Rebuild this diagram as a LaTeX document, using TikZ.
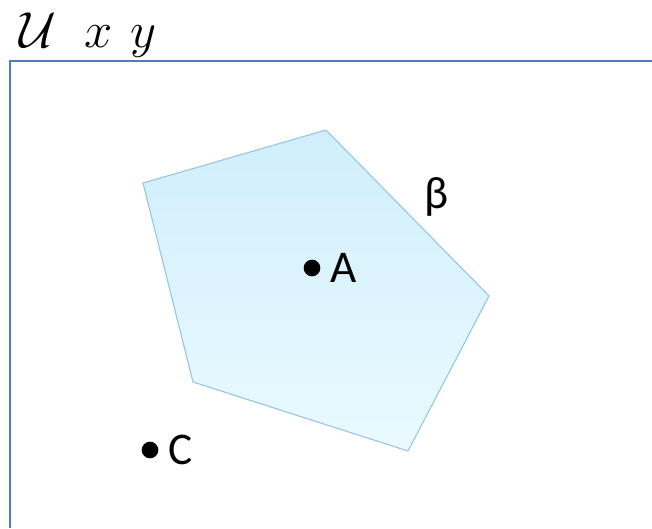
\RequirePackage{fix-cm}
\documentclass[tikz,border=0pt]{standalone}
\usepackage{fontspec}
\setmainfont{Carlito}
\usetikzlibrary{positioning}
\definecolor{framecol}{RGB}{79,125,186}
\definecolor{regionedge}{RGB}{150,195,232}
\definecolor{regiontop}{RGB}{208,238,252}
\definecolor{regionbot}{RGB}{234,250,255}
\tikzset{
  pt/.style={circle,fill=black,inner sep=0pt,minimum size=12.5pt},
  ptlabel/.style={inner sep=0pt,font=\fontsize{34}{40}\selectfont},
}

\begin{document}
\begin{tikzpicture}[x=0.75pt,y=-0.75pt]
  \useasboundingbox (0,0) rectangle (652,528);
  % frame of the universe
  \draw[framecol,line width=1.6pt] (10,528) -- (10,61) -- (652,61);
  \node[anchor=base west,inner sep=0pt,font=\fontsize{38}{44}\selectfont] (title) at (19,48) {$\mathcal{U}\hspace{21pt}x\hspace{14pt}y$};
  % the set beta
  \coordinate (p1) at (143,183);
  \coordinate (p2) at (326,130);
  \coordinate (p3) at (489,296);
  \coordinate (p4) at (408,451);
  \coordinate (p5) at (193,382);
  \shade[top color=regiontop,bottom color=regionbot] (p1) -- (p2) -- (p3) -- (p4) -- (p5) -- cycle;
  \draw[regionedge,line width=0.8pt,line join=round] (p1) -- (p2) -- (p3) -- (p4) -- (p5) -- cycle;
  \node[ptlabel] (beta) at (437,197) {β};
  % points
  \node[pt] (A) at (312,268) {};
  \node[ptlabel,right=7pt of A] (labA) {A};
  \node[pt] (C) at (150,450) {};
  \node[ptlabel,right=7pt of C] (labC) {C};
\end{tikzpicture}
\end{document}
